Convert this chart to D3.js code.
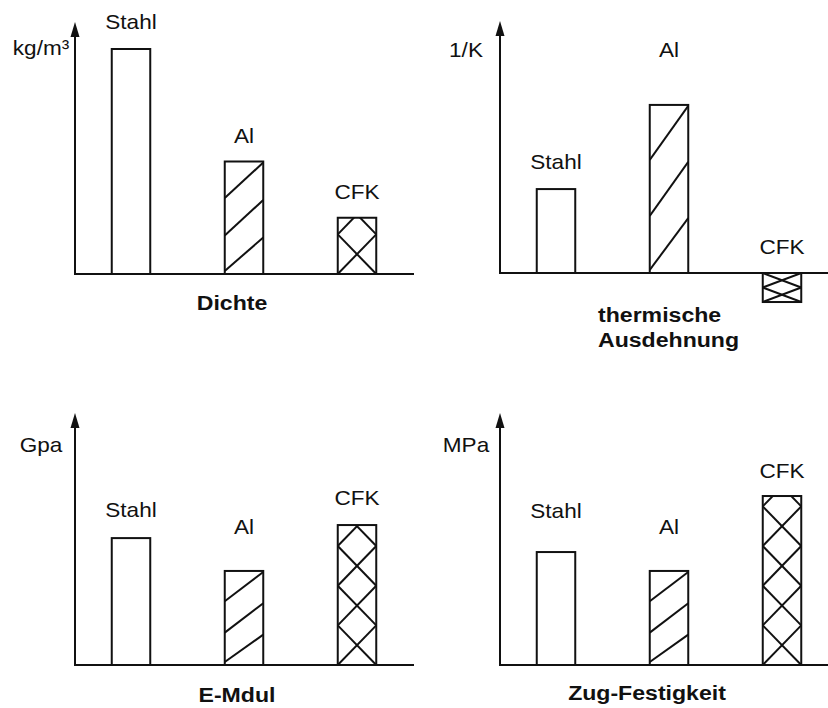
<!DOCTYPE html>
<html><head><meta charset="utf-8">
<script src="https://cdn.jsdelivr.net/npm/d3@7"></script>
<style>
body{margin:0;background:#fff}
text{font-family:"Liberation Sans",Arial,Helvetica,sans-serif;fill:#111}
</style>
</head><body>
<svg id="c" width="828" height="708"></svg>
<script>
// ---- data (relative values) ----
const categories = ["Stahl", "Al", "CFK"];
const hatchTypes = ["none", "diag", "cross"];
const dichte = [100, 50, 25];
const ausdehnung = [37.3, 74.7, -12.9];
const eModul = [56.4, 41.8, 62.2];
const zugFestigkeit = [50.2, 41.8, 75.1];
const units = ["kg/m³", "1/K", "Gpa", "MPa"];
const titles = [["Dichte"], ["thermische", "Ausdehnung"], ["E-Mdul"], ["Zug-Festigkeit"]];
const axisMax = 112;

// ---- layout ----
const panels = [
  {values: dichte,        ox: 75,  oy: 274, xEnd: 414, titleX: 157, titleAnchor: "middle", titleDy: 36, lift: [20, 19, 19]},
  {values: ausdehnung,    ox: 500, oy: 273, xEnd: 828, titleX: 98,  titleAnchor: "start",  titleDy: 49, lift: [20, 48, 19]},
  {values: eModul,        ox: 75,  oy: 665, xEnd: 414, titleX: 162, titleAnchor: "middle", titleDy: 37, lift: [21, 37, 20]},
  {values: zugFestigkeit, ox: 500, oy: 665, xEnd: 828, titleX: 147, titleAnchor: "middle", titleDy: 35, lift: [34, 37, 18]}
];
const barW = 38.5;
const stroke = "#111";
const sx = 1.1; // horizontal stretch of the lettering

const svg = d3.select("#c");
const defs = svg.append("defs");

function label(g, x, y, s, size, weight, anchor) {
  g.append("text")
    .attr("transform", `translate(${x},${y}) scale(${sx},1)`)
    .attr("text-anchor", anchor || "middle")
    .style("font-size", size + "px")
    .style("font-weight", weight || "normal")
    .text(s);
}

panels.forEach((p, pi) => {
  const g = svg.append("g");
  const y = d3.scaleLinear().domain([0, 100]).range([p.oy, p.oy - 225]);
  const x = d3.scalePoint().domain(categories).range([p.ox + 56, p.ox + 282]);

  // bars
  categories.forEach((c, i) => {
    const v = p.values[i];
    const cx = x(c);
    const x0 = cx - barW / 2, x1 = cx + barW / 2;
    const yTop = Math.min(y(v), y(0)), yBot = Math.max(y(v), y(0));
    const h = yBot - yTop;
    const id = `clip${pi}_${i}`;
    defs.append("clipPath").attr("id", id)
      .append("rect").attr("x", x0).attr("y", yTop).attr("width", barW).attr("height", h);
    const hg = g.append("g").attr("clip-path", `url(#${id})`)
      .attr("stroke", stroke).attr("stroke-width", 2).attr("fill", "none");
    const type = hatchTypes[i];
    if (type === "diag") {
      for (let k = 0; k < 3; k++) {
        hg.append("line")
          .attr("x1", x0).attr("y1", yTop + (k + 1) * h / 3 - (k === 2 ? 3 : 1))
          .attr("x2", x1).attr("y2", yTop + k * h / 3 + 1);
      }
    } else if (type === "cross") {
      if (v >= 0) {
        const P = barW * 1.03;
        for (let k = 0; k * P < h + P; k++) {
          hg.append("line").attr("x1", x0).attr("y1", yBot - k * P).attr("x2", x1).attr("y2", yBot - (k + 1) * P);
          hg.append("line").attr("x1", x1).attr("y1", yBot - k * P).attr("x2", x0).attr("y2", yBot - (k + 1) * P);
        }
      } else {
        const P = h / 2;
        for (let k = 0; k < 2; k++) {
          hg.append("line").attr("x1", x0).attr("y1", yTop + k * P).attr("x2", x1).attr("y2", yTop + (k + 1) * P);
          hg.append("line").attr("x1", x1).attr("y1", yTop + k * P).attr("x2", x0).attr("y2", yTop + (k + 1) * P);
        }
      }
    }
    g.append("rect").attr("x", x0).attr("y", yTop).attr("width", barW).attr("height", h)
      .attr("fill", "none").attr("stroke", stroke).attr("stroke-width", 2);

    const ly = (v >= 0 ? y(v) : y(0)) - p.lift[i];
    label(g, cx, ly, c, 20.5);
  });

  // axes
  const tip = y(axisMax);
  g.append("line").attr("x1", p.ox).attr("y1", y(0)).attr("x2", p.xEnd).attr("y2", y(0))
    .attr("stroke", stroke).attr("stroke-width", 2);
  g.append("line").attr("x1", p.ox).attr("y1", y(0) + 1).attr("x2", p.ox).attr("y2", tip + 10)
    .attr("stroke", stroke).attr("stroke-width", 2);
  g.append("path")
    .attr("d", `M${p.ox},${tip} L${p.ox - 4.5},${tip + 15} L${p.ox + 4.5},${tip + 15} Z`)
    .attr("fill", stroke);

  // unit
  label(g, p.ox - 34, y(0) - (pi === 0 ? 219 : pi === 1 ? 216 : 213), units[pi], 20.5);

  // title
  titles[pi].forEach((t, li) => {
    label(g, p.ox + p.titleX, y(0) + p.titleDy + li * 25, t, 21, "bold", p.titleAnchor);
  });
});
</script>
</body></html>
